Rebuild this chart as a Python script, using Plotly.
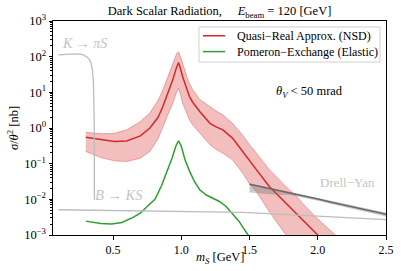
import plotly.graph_objects as go

# ---------------- data ----------------
red_x = [0.30, 0.41, 0.51, 0.60, 0.70, 0.77, 0.83, 0.865, 0.91, 0.94, 0.965, 0.98, 0.995, 1.01,
         1.04, 1.06, 1.085, 1.135, 1.21, 1.255, 1.305, 1.375, 1.45, 1.50, 1.55, 1.645, 1.695,
         1.76, 1.84, 1.915, 2.0]
red_mid = [0.55, 0.47, 0.42, 0.43, 0.60, 1.0, 2.0, 4.0, 11.2, 24, 50, 68, 45, 27.5,
           12.6, 7.6, 5.2, 2.9, 1.35, 1.07, 0.89, 0.52, 0.22, 0.126, 0.068, 0.023, 0.0148,
           0.0079, 0.0041, 0.0020, 0.0010]

band_x = red_x + [2.13]
red_hi = [0.76, 0.69, 0.71, 0.89, 1.51, 2.63, 6.0, 11.7, 33, 66, 120, 138, 100, 65,
          28, 17.8, 11.7, 6.3, 4.0, 3.0, 2.34, 1.35, 0.63, 0.34, 0.20, 0.068, 0.044,
          0.024, 0.0126, 0.0060, 0.0028, 0.0010]
red_lo = [0.22, 0.148, 0.12, 0.115, 0.141, 0.22, 0.50, 1.10, 2.8, 5.2, 10, 12.9, 8.3, 4.9,
          2.6, 1.7, 1.2, 0.71, 0.34, 0.25, 0.195, 0.129, 0.054, 0.027, 0.0166, 0.0045, 0.0024,
          0.00105, 0.0004, 0.00016, 0.00006, 0.000016]

green_x = [0.30, 0.41, 0.49, 0.565, 0.65, 0.70, 0.75, 0.807, 0.855, 0.893, 0.932, 0.961, 0.98,
           0.999, 1.028, 1.062, 1.096, 1.135, 1.183, 1.231, 1.28, 1.328, 1.376, 1.424, 1.463, 1.50]
green_y = [0.00245, 0.00209, 0.00204, 0.00224, 0.00316, 0.0041, 0.0063, 0.0100, 0.024, 0.056,
           0.141, 0.316, 0.44, 0.316, 0.126, 0.060, 0.0316, 0.0186, 0.0132, 0.0107, 0.0087,
           0.0063, 0.0040, 0.0024, 0.0014, 0.00089]

k_x = [0.10, 0.17, 0.228, 0.276, 0.314, 0.334, 0.348, 0.356, 0.361, 0.363, 0.363]
k_y = [112, 116, 120, 115, 95, 75, 45, 20, 5, 1, 0.0098]

b_x = [0.10, 0.5, 1.0, 1.45, 2.0, 2.5]
b_y = [0.0051, 0.0048, 0.0045, 0.0043, 0.0034, 0.0027]

dy_x = [1.5, 1.6, 1.7, 1.8, 1.9, 2.0, 2.1, 2.2, 2.3, 2.4, 2.5]
dy_y = [0.0263, 0.0219, 0.0182, 0.0148, 0.0123, 0.0102, 0.0083, 0.0068, 0.0056, 0.0046, 0.0038]
dy_hi = [0.0282, 0.0235, 0.0196, 0.0160, 0.0133, 0.0111, 0.0091, 0.0075, 0.0062, 0.0051, 0.0043]
dy_lo = [0.0155, 0.0145, 0.0135, 0.0132, 0.0110, 0.0091, 0.0074, 0.0060, 0.0049, 0.0040, 0.0033]

y_ticks = [1e-3, 1e-2, 1e-1, 1, 10, 100, 1000]
y_tick_text = ["10<sup>−3</sup>", "10<sup>−2</sup>", "10<sup>−1</sup>", "10<sup>0</sup>",
               "10<sup>1</sup>", "10<sup>2</sup>", "10<sup>3</sup>"]
x_ticks = [0.5, 1.0, 1.5, 2.0, 2.5]
x_tick_text = ["0.5", "1.0", "1.5", "2.0", "2.5"]

legend_names = ["Quasi−Real Approx. (NSD)", "Pomeron−Exchange (Elastic)"]

# ---------------- figure ----------------
FONT = "'Liberation Serif', 'DejaVu Serif', serif"
RED = "#d62728"
GREEN = "#2ca02c"
LIGHTGRAY = "#bdbdbd"

fig = go.Figure()

fig.add_trace(go.Scatter(x=band_x + band_x[::-1], y=red_hi + red_lo[::-1], fill="toself",
                         fillcolor="rgba(214,39,40,0.30)", line=dict(color="rgba(214,39,40,0.35)", width=1),
                         mode="lines", showlegend=False, hoverinfo="skip"))
fig.add_trace(go.Scatter(x=red_x, y=red_mid, mode="lines", line=dict(color=RED, width=1.5),
                         name=legend_names[0], showlegend=False))
fig.add_trace(go.Scatter(x=green_x, y=green_y, mode="lines", line=dict(color=GREEN, width=1.5),
                         name=legend_names[1], showlegend=False))
fig.add_trace(go.Scatter(x=k_x, y=k_y, mode="lines", line=dict(color=LIGHTGRAY, width=1.3),
                         showlegend=False))
fig.add_trace(go.Scatter(x=b_x, y=b_y, mode="lines", line=dict(color=LIGHTGRAY, width=1.3),
                         showlegend=False))
fig.add_trace(go.Scatter(x=dy_x + dy_x[::-1], y=dy_hi + dy_lo[::-1], fill="toself",
                         fillcolor="rgba(120,120,120,0.40)", line=dict(width=0),
                         mode="lines", showlegend=False, hoverinfo="skip"))
fig.add_trace(go.Scatter(x=dy_x, y=dy_y, mode="lines", line=dict(color="#6a6a6a", width=1.5),
                         showlegend=False))

# text labels
txt_col = "#c4c4c4"
fig.add_annotation(x=0.11, y=2.38, xref="x", yref="y", text="<i>K</i> → <i>πS</i>", showarrow=False,
                   xanchor="left", yanchor="middle", font=dict(family=FONT, size=14, color=txt_col))
fig.add_annotation(x=0.352, y=-1.87, xref="x", yref="y", text="<i>B</i> → <i>KS</i>", showarrow=False,
                   xanchor="left", yanchor="middle", font=dict(family=FONT, size=14.5, color=txt_col))
fig.add_annotation(x=2.0, y=-1.54, xref="x", yref="y", text="Drell−Yan", showarrow=False,
                   xanchor="left", yanchor="middle", font=dict(family=FONT, size=13, color=txt_col))
fig.add_annotation(x=1.68, y=1.02, xref="x", yref="y", text="<i>θ<sub>V</sub></i> &lt; 50 mrad",
                   showarrow=False, xanchor="left", yanchor="middle",
                   font=dict(family=FONT, size=12.5, color="black"))

# legend (drawn in paper coordinates, matching the reference's box)
fig.add_shape(type="rect", xref="paper", yref="paper", x0=0.4384, x1=0.982, y0=0.808, y1=0.972,
              fillcolor="rgba(255,255,255,0.85)", line=dict(color="#d0d0d0", width=1), layer="above")
for row_y, col, name in [(0.931, RED, legend_names[0]), (0.857, GREEN, legend_names[1])]:
    fig.add_shape(type="line", xref="paper", yref="paper", x0=0.450, x1=0.517, y0=row_y, y1=row_y,
                  line=dict(color=col, width=1.5), layer="above")
    fig.add_annotation(x=0.547, y=row_y, xref="paper", yref="paper", text=name, showarrow=False,
                       xanchor="left", yanchor="middle", font=dict(family=FONT, size=12, color="black"))

# axis titles
fig.add_annotation(x=0.5, y=-0.106, xref="paper", yref="paper", xanchor="center", yanchor="middle",
                   text="<i>m<sub>S</sub></i> [GeV]", showarrow=False,
                   font=dict(family=FONT, size=12.5, color="black"))
fig.add_annotation(x=-0.12, y=0.5, xref="paper", yref="paper", xanchor="center", yanchor="middle",
                   text="<i>σ</i>/<i>θ</i><sup>2</sup> [nb]", textangle=-90, showarrow=False,
                   font=dict(family=FONT, size=12.5, color="black"))

minor_y = []
for dec in [1e-3, 1e-2, 1e-1, 1, 10, 100]:
    for m in range(2, 10):
        minor_y.append(m * dec)

fig.update_layout(
    width=407, height=271,
    margin=dict(l=53, r=21, t=21, b=36, autoexpand=False),
    paper_bgcolor="white", plot_bgcolor="white",
    font=dict(family=FONT, size=12, color="black"),
    title=dict(text="Dark Scalar Radiation,     <i>E</i><sub>beam</sub> = 120 [GeV]",
               x=0.5395, xanchor="center", y=0.96, yanchor="middle",
               font=dict(family=FONT, size=12.5, color="black")),
    showlegend=False,
)
fig.update_xaxes(range=[0.06, 2.5], showgrid=False, zeroline=False, showline=True, linecolor="black",
                 linewidth=1, mirror=True, ticks="outside", ticklen=3.5, tickcolor="black",
                 tickvals=x_ticks, ticktext=x_tick_text, tickfont=dict(family=FONT, size=12))
fig.update_yaxes(type="log", range=[-3, 3], showgrid=False, zeroline=False, showline=True,
                 linecolor="black", linewidth=1, mirror=True, ticks="outside", ticklen=3.5,
                 tickcolor="black", tickvals=y_ticks, ticktext=y_tick_text,
                 tickfont=dict(family=FONT, size=12.5),
                 minor=dict(ticks="outside", ticklen=2, tickcolor="black", tickvals=minor_y))

fig.write_html("out.html", config={"displayModeBar": False},
               post_script="document.body.style.margin='0';")
